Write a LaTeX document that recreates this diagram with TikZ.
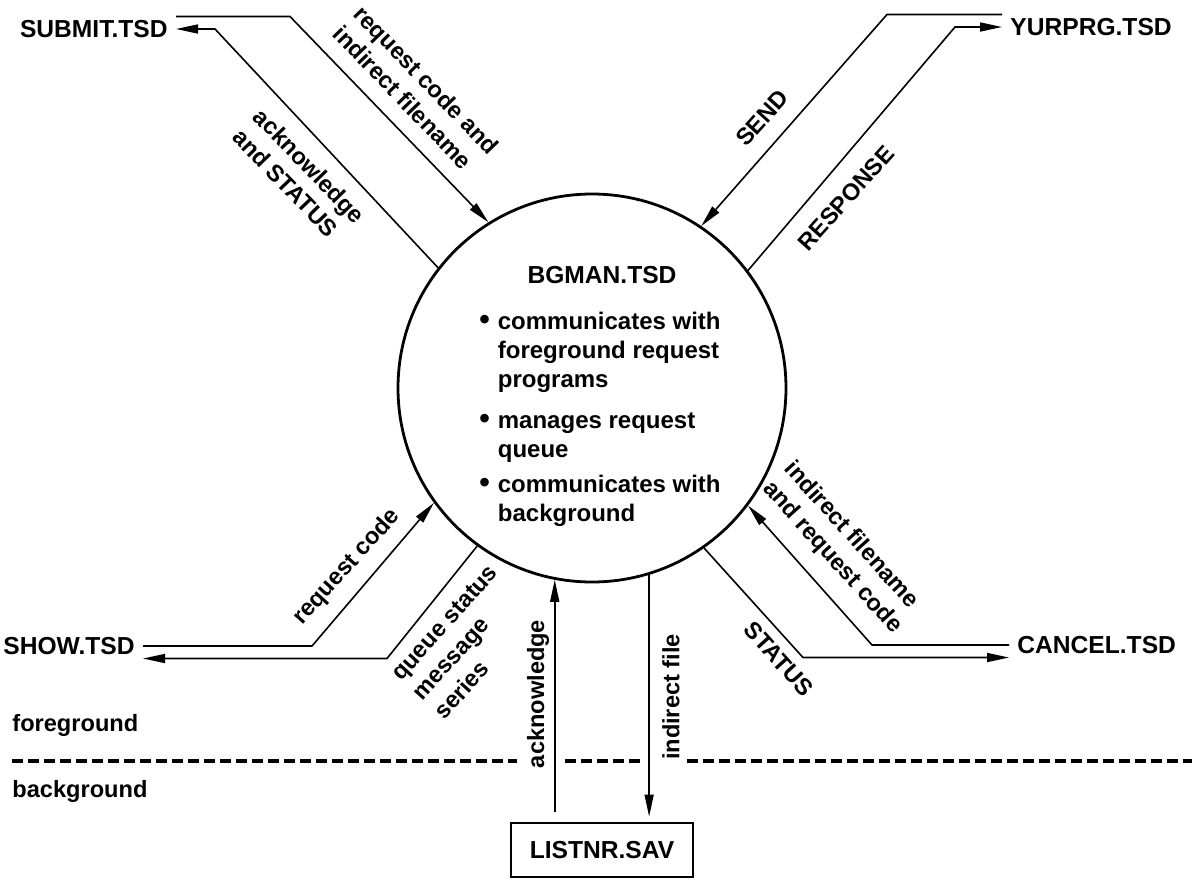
\documentclass[tikz,border=0pt]{standalone}
\usepackage{fontspec}
\setmainfont{Liberation Sans}
\usetikzlibrary{calc,arrows.meta,positioning}

\newcommand{\namefont}{\fontsize{12.3}{14.5}\selectfont\bfseries}
\newcommand{\taskfont}{\fontsize{12}{14.5}\selectfont\bfseries}
\newcommand{\lblfont}{\fontsize{11.8}{14.5}\selectfont\bfseries}
\newcommand{\dotmark}{{\fontsize{15}{14.5}\selectfont\textbullet}}

\begin{document}
\begin{tikzpicture}[x=0.5pt,y=-0.5pt,
  fname/.style={font=\namefont, inner xsep=4pt, inner ysep=1.7pt},
  lbl/.style={font=\lblfont, align=left, inner sep=0pt},
  flow/.style={line width=0.8pt, -{Triangle[length=11pt,width=4.5pt]}},
  back/.style={line width=0.8pt, {Triangle[length=11pt,width=4.5pt]}-},
  split/.style={line width=2.2pt, dash pattern=on 5.5pt off 2.5pt}]
\useasboundingbox (0,0) rectangle (1204,879);

% the manager
\node[circle, draw, line width=1.4pt, minimum size=194pt] (bg) at (592,388) {};
\node[font=\namefont] (bgtitle) at (602,275) {BGMAN.TSD};
\node[font=\taskfont, anchor=north, inner sep=0pt] (bgtasks) at (600,309) {%
  \begin{tabular}{@{}l@{\hspace{4pt}}l@{}}
  \dotmark & communicates with\\
   & foreground request\\
   & programs\\[6pt]
  \dotmark & manages request\\
   & queue\\[3pt]
  \dotmark & communicates with\\
   & background
  \end{tabular}};

% the request programs
\node[fname, anchor=east] (submit) at (176,29) {SUBMIT.TSD};
\node[fname, anchor=west] (yurprg) at (1002,27) {YURPRG.TSD};
\node[fname, anchor=east] (show) at (143,646) {SHOW.TSD};
\node[fname, anchor=west] (cancel) at (1009,645) {CANCEL.TSD};
\node[fname, draw, line width=1.4pt, minimum width=91pt, minimum height=27pt] (listnr) at (602,850) {LISTNR.SAV};

% the flows
\draw[flow] (submit.north east) -- ++(114,0) -- (bg.122);
\draw[back] (submit.east) -- ++(39,0) -- (bg.142);
\draw[flow] (yurprg.north west) -- ++(-115,0) -- (bg.56);
\draw[back] (yurprg.west) -- ++(-47,0) -- (bg.37);
\draw[flow] (show.east) -- ++(169,0) -- (bg.216);
\draw[back] (show.south east) -- ++(244,0) -- (bg.234);
\draw[flow] (cancel.west) -- ++(-137,0) -- (bg.-37);
\draw[back] (cancel.south west) -- ++(-206,0) -- (bg.-55);
\draw[flow] ($(bg.-101 |- listnr.north)+(0,-10)$) -- (bg.-101);
\draw[flow] (bg.-73) -- ($(bg.-73 |- listnr.north)+(0,-5)$);

% flow labels
\node[lbl, rotate=-46] (lsubin) at (416,90) {request code and\\indirect filename};
\node[lbl, rotate=-46] (lsubout) at (299,176) {acknowledge\\and STATUS};
\node[lbl, rotate=48] (lsend) at (762,118) {SEND};
\node[lbl, rotate=48] (lresp) at (846,198) {RESPONSE};
\node[lbl, rotate=48] (lshowin) at (347,567) {request code};
\node[lbl, rotate=48] (lshowout) at (466,642) {queue status\\message\\series};
\node[lbl, rotate=90] (lack) at (538,694) {acknowledge};
\node[lbl, rotate=90] (lfile) at (671,697) {indirect file};
\node[lbl, rotate=-48] (lstatus) at (779,659) {STATUS};
\node[lbl, rotate=-48] (lcanin) at (843,548) {indirect filename\\and request code};

% foreground / background
\draw[split] (12,761) -- (517,761);
\draw[split] (565,761) -- (640,761);
\draw[split] (687,761) -- (1192,761);
\node[lbl, anchor=west] (fg) at (12,725) {foreground};
\node[lbl, anchor=west] (bgd) at (12,791) {background};

\end{tikzpicture}
\end{document}
